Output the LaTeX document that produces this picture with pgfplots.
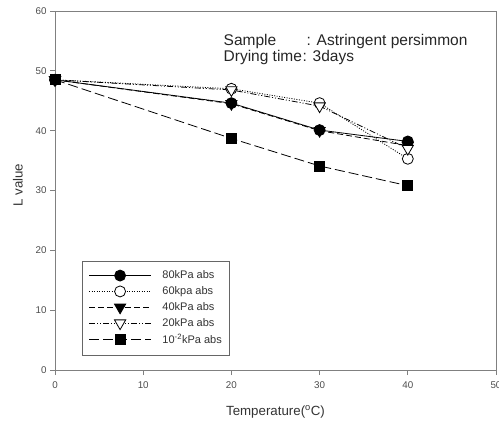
\documentclass[border=0pt]{standalone}
\usepackage{fontspec}
\setmainfont{Liberation Sans}
\usepackage{pgfplots}
\pgfplotsset{compat=1.18}
\definecolor{framegray}{gray}{0.5}
\definecolor{labgray}{gray}{0.3}
\begin{document}
\begin{tikzpicture}
\begin{axis}[
  name=ax,
  scale only axis,
  width=441bp, height=359bp,
  xmin=0, xmax=50, ymin=0, ymax=60,
  xtick={0,10,...,50}, ytick={0,10,...,60},
  tick pos=left,
  tick align=outside,
  major tick length=5bp,
  axis line style={framegray, line width=0.9bp},
  tick style={framegray, line width=0.8bp},
  ticklabel style={font=\fontsize{9.8bp}{11bp}\selectfont, text=labgray},
  xticklabel style={yshift=-3bp},
  /pgf/number format/assume math mode=true,
  xlabel={Temperature(\textsuperscript{o}C)},
  ylabel={L value},
  every axis x label/.style={at={(axis description cs:0.5,-0.117)}, anchor=center, font=\fontsize{13.3bp}{15bp}\selectfont, text=black!80},
  every axis y label/.style={at={(axis description cs:-0.084,0.515)}, rotate=90, anchor=center, font=\fontsize{13.3bp}{15bp}\selectfont, text=black!80},
  legend style={at={(axis cs:3.1,18.3)}, anchor=north west, draw=black!60, line width=0.7bp,
    font=\fontsize{11bp}{12.5bp}\selectfont, row sep=2.4bp, column sep=9bp, inner xsep=6bp, inner ysep=8bp,
    cells={anchor=west}, text=black!80},
  legend image code/.code={\draw[mark repeat=2,mark phase=2,#1] plot coordinates {(0bp,0bp) (31bp,0bp) (62bp,0bp)};},
  every axis plot/.append style={line width=0.8bp, black},
]
\addplot[solid, mark=*, mark size=5.5bp, mark options={solid, fill=black}]
  coordinates {(0,48.5) (20,44.6) (30,40.1) (40,38.2)};
\addlegendentry{80kPa abs}
\addplot[dash pattern=on 1bp off 1.5bp, mark=*, mark size=5.5bp, mark options={solid, fill=white}]
  coordinates {(0,48.5) (20,47.0) (30,44.6) (40,35.3)};
\addlegendentry{60kpa abs}
\addplot[dash pattern=on 6bp off 3bp, mark=triangle*, mark size=6.5bp, mark options={solid, fill=black, rotate=180}]
  coordinates {(0,48.5) (20,44.5) (30,40.0) (40,37.5)};
\addlegendentry{40kPa abs}
\addplot[dash pattern=on 6bp off 2bp on 1bp off 2bp on 1bp off 2bp, mark=triangle*, mark size=6.5bp, mark options={solid, fill=white, rotate=180}]
  coordinates {(0,48.5) (20,46.8) (30,44.1) (40,37.0)};
\addlegendentry{20kPa abs}
\addplot[dash pattern=on 10bp off 4bp, mark=square*, mark size=5bp, mark options={solid, fill=black}]
  coordinates {(0,48.5) (20,38.7) (30,34.1) (40,30.8)};
\addlegendentry{10\textsuperscript{-2}kPa abs}
\node[anchor=north west, inner sep=0pt, text=black!85, font=\fontsize{15.5bp}{16.5bp}\selectfont, align=left]
  at (axis cs:19.1,56.2)
  {\makebox[83bp][l]{Sample}: Astringent persimmon\\\makebox[79bp][l]{Drying time}: 3days};
\end{axis}
\pgfresetboundingbox
\path ([shift={(-55bp,-53bp)}]ax.south west) rectangle ([shift={(3bp,11bp)}]ax.north east);
\end{tikzpicture}
\end{document}
